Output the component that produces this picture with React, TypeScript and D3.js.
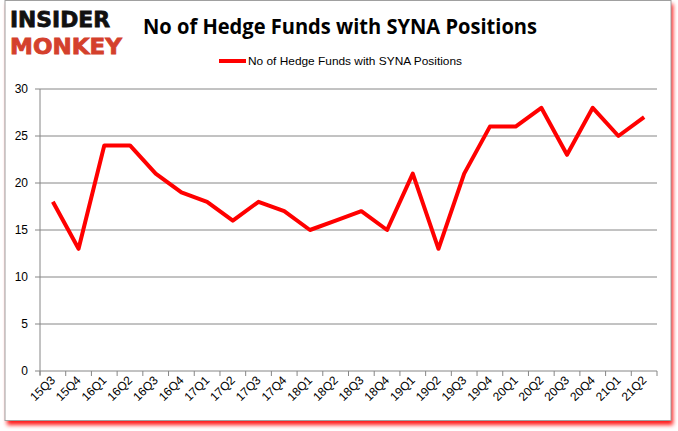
import React from "react";
import * as d3 from "d3";

const categories = ["15Q3","15Q4","16Q1","16Q2","16Q3","16Q4","17Q1","17Q2","17Q3","17Q4","18Q1","18Q2","18Q3","18Q4","19Q1","19Q2","19Q3","19Q4","20Q1","20Q2","20Q3","20Q4","21Q1","21Q2"];
const values = [18,13,24,24,21,19,18,16,18,17,15,16,17,15,21,13,21,26,26,28,23,28,25,27];
const yTicks = [0,5,10,15,20,25,30];
const title = "No of Hedge Funds with SYNA Positions";
const seriesName = "No of Hedge Funds with SYNA Positions";

export default function App() {
  const W = 678, H = 431;
  const left = 40, right = 657, top = 89, bottom = 371;
  const x = d3.scaleBand<string>().domain(categories).range([left, right]);
  const y = d3.scaleLinear().domain([0, 30]).range([bottom, top]);
  const line = d3.line<number>()
    .x((_, i) => (x(categories[i]) as number) + x.bandwidth() / 2)
    .y(d => y(d));
  const font = "'Liberation Sans', Arial, sans-serif";
  return (
    <svg width={W} height={H} style={{ position: "absolute", left: 0, top: 0 }}>
      <defs>
        <filter id="sh" x="-5%" y="-5%" width="110%" height="110%">
          <feGaussianBlur stdDeviation="2" />
        </filter>
      </defs>
      <rect x={0} y={0} width={W} height={H} fill="#fff" />
      <rect x={7} y={4} width={666} height={421} fill="#ff0000" filter="url(#sh)" opacity={0.9} />
      <rect x={5} y={0.5} width={666} height={420} fill="#fff" stroke="#a0a0a0" strokeWidth={1} />
      {/* logo */}
      <text x={10} y={27} fontFamily="'DejaVu Sans', sans-serif" fontWeight={900} fontSize={22} fill="#111" textLength={100} lengthAdjust="spacingAndGlyphs" stroke="#111" strokeWidth={0.8}>INSIDER</text>
      <text x={10} y={54} fontFamily="'DejaVu Sans', sans-serif" fontWeight={900} fontSize={22} fill="#d4402c" textLength={112} lengthAdjust="spacingAndGlyphs" stroke="#d4402c" strokeWidth={0.8}>MONKEY</text>
      {/* title */}
      <text x={143} y={34} fontFamily="'Open Sans', sans-serif" fontWeight={700} fontSize={21} fill="#000" textLength={394} lengthAdjust="spacingAndGlyphs">{title}</text>
      {/* legend */}
      <line x1={219} x2={246} y1={61} y2={61} stroke="#ff0000" strokeWidth={4} />
      <text x={248} y={65} fontFamily={font} fontSize={11} fill="#000" textLength={214} lengthAdjust="spacingAndGlyphs">{seriesName}</text>
      {/* grid */}
      {yTicks.map(t => (
        <g key={t}>
          <line x1={35} x2={t === 0 ? left : right} y1={y(t)} y2={y(t)} stroke="#868686" strokeWidth={1} />
          <text x={28} y={y(t) + 4} textAnchor="end" fontFamily={font} fontSize={12} fill="#000">{t}</text>
        </g>
      ))}
      <line x1={left} x2={left} y1={top} y2={bottom + 4} stroke="#868686" />
      <line x1={left} x2={right} y1={bottom} y2={bottom} stroke="#868686" />
      {categories.map((c, i) => {
        const bx = x(c) as number;
        const cx = bx + x.bandwidth() / 2;
        return (
          <g key={c}>
            <line x1={bx} x2={bx} y1={bottom} y2={bottom + 5} stroke="#868686" />
            {i === categories.length - 1 && <line x1={right} x2={right} y1={bottom} y2={bottom + 5} stroke="#868686" />}
            <text transform={`translate(${cx + 3},${381}) rotate(-45)`} textAnchor="end" fontFamily={font} fontSize={12} fill="#000">{c}</text>
          </g>
        );
      })}
      <path d={line(values) || ""} fill="none" stroke="#ff0000" strokeWidth={4} strokeLinejoin="round" />
    </svg>
  );
}
